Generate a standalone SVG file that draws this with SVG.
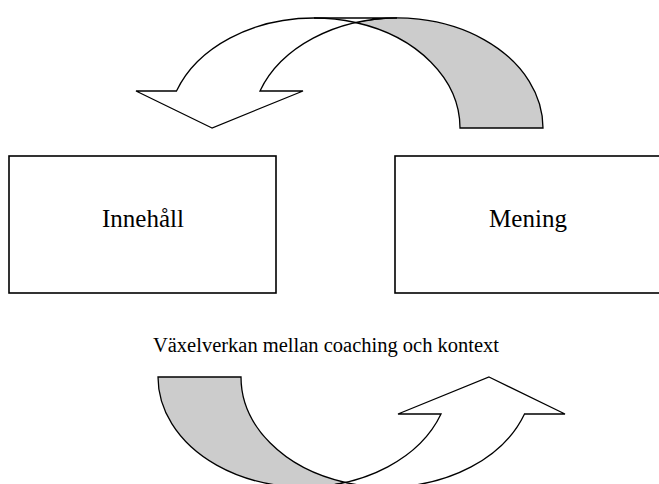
<svg xmlns="http://www.w3.org/2000/svg" width="659" height="484" viewBox="0 0 659 484">
  <defs>
    <style>
      .box { fill: #ffffff; stroke: #000000; stroke-width: 1.6; }
      .label { font-family: "Liberation Serif", "Times New Roman", serif; fill: #000000; text-anchor: middle; }
      .node-text { font-size: 25px; }
      .caption { font-size: 20.5px; }
      .tail { fill: #cccccc; stroke: #000000; stroke-width: 1.3; stroke-linejoin: miter; }
      .body { fill: #ffffff; stroke: #000000; stroke-width: 1.3; stroke-linejoin: miter; }
      .edge { fill: none; stroke: #000000; stroke-width: 1.3; }
    </style>
    <!-- Curved arrow: two equal ellipses (rx 146, ry 110) centred at (314,128) and (397,128).
         The shaded tail lies on their right halves, the white body with its head on the left halves. -->
    <g id="curved-arrow">
      <path class="tail" d="M 355.5 22.5 A 146 110 0 0 1 543 128 L 460 128 A 146 110 0 0 0 355.5 22.5 Z"/>
      <path class="body" d="M 212 128 L 136 91 L 176.5 91 A 146 110 0 0 1 314 18 L 397 18 A 146 110 0 0 0 260 91 L 303 91 Z"/>
      <path class="edge" d="M 314 18 A 146 110 0 0 1 355.5 22.5"/>
    </g>
  </defs>

  <g id="connectors">
    <use id="arrow-top" href="#curved-arrow"/>
    <use id="arrow-bottom" href="#curved-arrow" transform="rotate(180 350.5 252.5)"/>
  </g>

  <g id="node-innehall">
    <rect class="box" x="9" y="156" width="267" height="137"/>
    <text class="label node-text" x="143" y="227">Innehåll</text>
  </g>

  <g id="node-mening">
    <rect class="box" x="395" y="156" width="267" height="137"/>
    <text class="label node-text" x="528" y="227">Mening</text>
  </g>

  <g id="caption">
    <text class="label caption" x="326" y="352">Växelverkan mellan coaching och kontext</text>
  </g>
</svg>
